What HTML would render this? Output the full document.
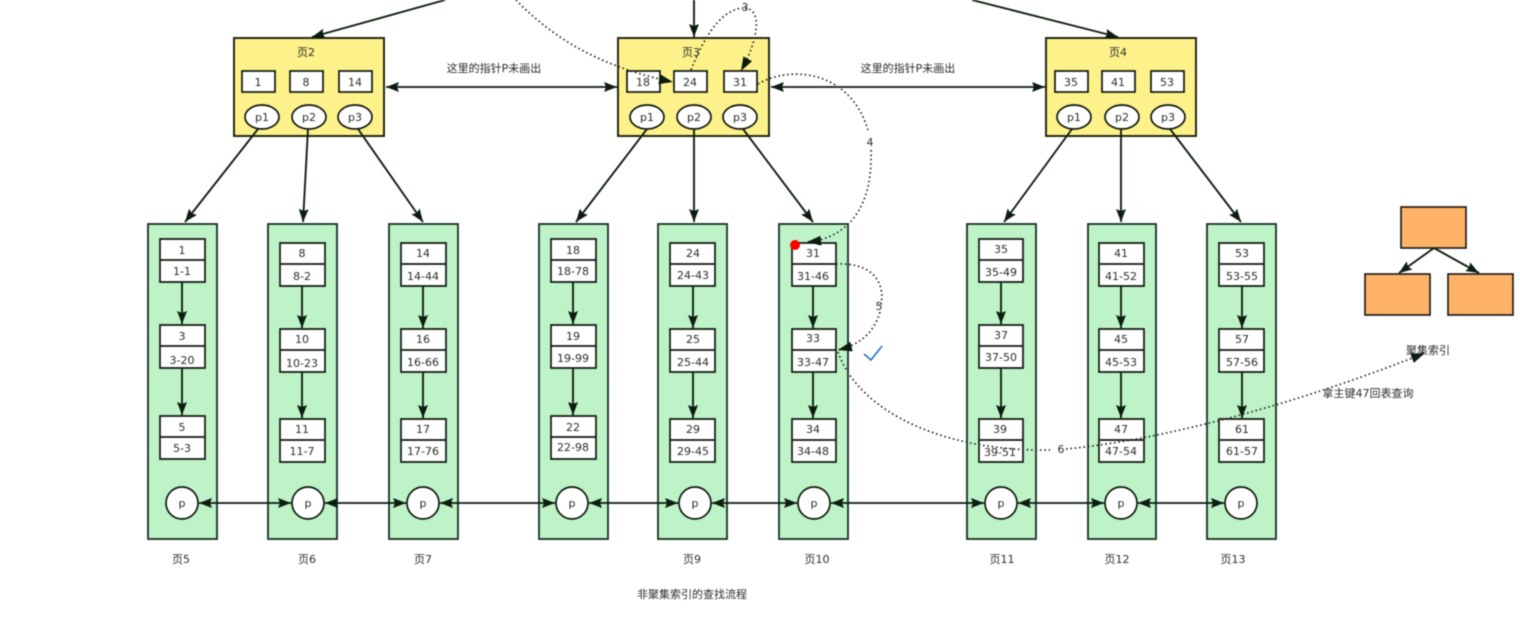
<!DOCTYPE html>
<html><head><meta charset="utf-8"><style>
html,body{margin:0;padding:0;background:#fff}
svg{display:block;filter:blur(.6px)}
text{font-family:"DejaVu Sans","Noto Sans CJK SC",sans-serif;font-size:11px;fill:#2c2c2c;text-anchor:middle}
.pg{fill:#bdf3c7;stroke:#17301f;stroke-width:1.8}
.y{fill:#fdf18a;stroke:#1c1c10;stroke-width:1.9}
.b{fill:#fff;stroke:#10180f;stroke-width:1.7}
.o{fill:#ffb366;stroke:#151515;stroke-width:1.6}
.a{stroke:#10200f;stroke-width:1.9;fill:none;marker-end:url(#m)}
.h{stroke:#0a1a10;stroke-width:1.8;fill:none;marker-end:url(#m);marker-start:url(#s)}
.d{stroke:#2a2a2a;stroke-width:1.7;fill:none;stroke-dasharray:1.6 2.8}
.da{stroke:#2a2a2a;stroke-width:1.7;fill:none;stroke-dasharray:1.6 2.8;marker-end:url(#m2)}
</style></head><body>
<svg width="1520" height="631" viewBox="0 0 1520 631" xmlns="http://www.w3.org/2000/svg">
<defs>
<marker id="m" markerWidth="14" markerHeight="12" refX="13" refY="5" orient="auto" markerUnits="userSpaceOnUse"><path d="M0 0L13 5L0 10L2 5Z" fill="#0c1c10"/></marker>
<marker id="s" markerWidth="14" markerHeight="12" refX="0" refY="5" orient="auto" markerUnits="userSpaceOnUse"><path d="M13 0L0 5L13 10L11 5Z" fill="#0c1c10"/></marker>
<marker id="m2" markerWidth="15" markerHeight="12" refX="14" refY="5" orient="auto" markerUnits="userSpaceOnUse"><path d="M0 0L14 5L0 10Z" fill="#0c1c10"/></marker>
</defs>
<!-- page frames -->
<rect class="pg" x="148" y="224" width="69" height="315"/>
<rect class="pg" x="268" y="224" width="69" height="315"/>
<rect class="pg" x="389" y="224" width="69" height="315"/>
<rect class="pg" x="539" y="224" width="69" height="315"/>
<rect class="pg" x="658" y="224" width="69" height="315"/>
<rect class="pg" x="779" y="224" width="69" height="315"/>
<rect class="pg" x="967" y="224" width="69" height="315"/>
<rect class="pg" x="1088" y="224" width="68" height="315"/>
<rect class="pg" x="1207" y="224" width="69" height="315"/>
<rect class="y" x="234" y="38" width="150" height="98"/>
<rect class="y" x="618" y="38" width="151" height="98"/>
<rect class="y" x="1046" y="38" width="150" height="98"/>
<!-- top boxes -->
<g class="b">
<rect x="242" y="71" width="33" height="21"/><rect x="290" y="71" width="33" height="21"/><rect x="339" y="71" width="33" height="21"/>
<rect x="627" y="71" width="33" height="21"/><rect x="674" y="71" width="33" height="21"/><rect x="724" y="71" width="33" height="21"/>
<rect x="1055" y="71" width="33" height="21"/><rect x="1102" y="71" width="33" height="21"/><rect x="1151" y="71" width="33" height="21"/>
<ellipse cx="262" cy="117" rx="17" ry="12"/><ellipse cx="309" cy="117" rx="17" ry="12"/><ellipse cx="355" cy="117" rx="17" ry="12"/>
<ellipse cx="647" cy="117" rx="17" ry="12"/><ellipse cx="694" cy="117" rx="17" ry="12"/><ellipse cx="740" cy="117" rx="17" ry="12"/>
<ellipse cx="1074" cy="117" rx="17" ry="12"/><ellipse cx="1122" cy="117" rx="17" ry="12"/><ellipse cx="1168" cy="117" rx="17" ry="12"/>
</g>
<!-- node boxes -->
<g class="b">
<path d="M160 239h45v43h-45zM160 260h45M160 325h45v43h-45zM160 346h45M160 416h45v43h-45zM160 437h45"/>
<path d="M280 243h45v43h-45zM280 264h45M280 329h45v43h-45zM280 350h45M280 419h45v43h-45zM280 440h45"/>
<path d="M401 243h45v43h-45zM401 264h45M401 329h45v43h-45zM401 350h45M401 419h45v43h-45zM401 440h45"/>
<path d="M551 239h45v43h-45zM551 260h45M551 325h45v43h-45zM551 346h45M551 416h45v43h-45zM551 437h45"/>
<path d="M670 243h45v43h-45zM670 264h45M670 329h45v43h-45zM670 350h45M670 419h45v43h-45zM670 440h45"/>
<path d="M792 243h44v43h-44zM792 264h44M792 329h44v43h-44zM792 350h44M792 419h44v43h-44zM792 440h44"/>
<path d="M979 239h44v43h-44zM979 260h44M979 325h44v43h-44zM979 346h44M979 419h44v43h-44zM979 440h44"/>
<path d="M1099 243h45v43h-45zM1099 264h45M1099 329h45v43h-45zM1099 350h45M1099 419h45v43h-45zM1099 440h45"/>
<path d="M1219 243h45v43h-45zM1219 264h45M1219 329h45v43h-45zM1219 350h45M1219 419h45v43h-45zM1219 440h45"/>
<circle cx="182" cy="503" r="16"/><circle cx="308" cy="503" r="16"/><circle cx="423" cy="503" r="16"/><circle cx="572" cy="503" r="16"/><circle cx="695" cy="503" r="16"/><circle cx="814" cy="503" r="16"/><circle cx="1001" cy="503" r="16"/><circle cx="1121" cy="503" r="16"/><circle cx="1241" cy="503" r="16"/>
</g>
<!-- arrows -->
<path class="a" d="M445 0L312 37"/><path class="a" d="M694 0V37"/><path class="a" d="M972 0L1118 37"/>
<path class="h" d="M386 87H617"/><path class="h" d="M771 87H1045"/>
<path class="a" d="M258 129L185 222"/><path class="a" d="M308 129L303 222"/><path class="a" d="M358 129L423 222"/>
<path class="a" d="M647 129L576 222"/><path class="a" d="M694 129V222"/><path class="a" d="M743 129L813 222"/>
<path class="a" d="M1072 129L1004 222"/><path class="a" d="M1121 129V222"/><path class="a" d="M1170 129L1241 222"/>
<path class="a" d="M182 282V324"/><path class="a" d="M182 368V415"/>
<path class="a" d="M302 286V328"/><path class="a" d="M302 372V418"/>
<path class="a" d="M423 286V328"/><path class="a" d="M423 372V418"/>
<path class="a" d="M573 282V324"/><path class="a" d="M573 368V415"/>
<path class="a" d="M693 286V328"/><path class="a" d="M693 372V418"/>
<path class="a" d="M813 286V328"/><path class="a" d="M813 372V418"/>
<path class="a" d="M1001 282V324"/><path class="a" d="M1001 368V418"/>
<path class="a" d="M1121 286V328"/><path class="a" d="M1121 372V418"/>
<path class="a" d="M1242 286V328"/><path class="a" d="M1242 372V418"/>
<path class="h" d="M199 503H291"/><path class="h" d="M325 503H406"/><path class="h" d="M440 503H555"/><path class="h" d="M589 503H678"/><path class="h" d="M712 503H797"/><path class="h" d="M831 503H984"/><path class="h" d="M1018 503H1104"/><path class="h" d="M1138 503H1224"/>
<!-- dotted -->
<path class="da" d="M516 0C545 30 590 65 673 82"/>
<path class="d" d="M691 70C705 35 722 8 745 8"/>
<path class="da" d="M745 8C763 10 758 40 741 71"/>
<path class="d" d="M758 84C790 65 850 70 868 130"/>
<path class="da" d="M871 150C873 205 850 238 807 242"/>
<path class="d" d="M836 264C875 262 885 285 881 305"/>
<path class="da" d="M880 312C873 335 858 345 838 350"/>
<path class="d" d="M838 352C860 415 950 452 1050 450"/>
<path class="da" d="M1066 449C1180 438 1320 395 1425 353"/>
<circle cx="795" cy="245" r="5" fill="#f00"/>
<path d="M864 354L871 360L882 346" fill="none" stroke="#2a6fd0" stroke-width="1.6"/>
<!-- orange -->
<rect class="o" x="1401" y="207" width="65" height="41"/>
<rect class="o" x="1365" y="274" width="65" height="41"/>
<rect class="o" x="1448" y="274" width="65" height="41"/>
<path class="a" d="M1434 248L1399 273"/><path class="a" d="M1434 248L1479 273"/>
<!-- text -->
<text x="306" y="56">页2</text><text x="691" y="56">页3</text><text x="1118" y="56">页4</text>
<text x="494" y="72">这里的指针P未画出</text><text x="908" y="72">这里的指针P未画出</text>
<text x="258" y="86">1</text><text x="306" y="86">8</text><text x="355" y="86">14</text>
<text x="643" y="86">18</text><text x="690" y="86">24</text><text x="740" y="86">31</text>
<text x="1071" y="86">35</text><text x="1118" y="86">41</text><text x="1167" y="86">53</text>
<text x="262" y="121">p1</text><text x="309" y="121">p2</text><text x="355" y="121">p3</text>
<text x="647" y="121">p1</text><text x="694" y="121">p2</text><text x="740" y="121">p3</text>
<text x="1074" y="121">p1</text><text x="1122" y="121">p2</text><text x="1168" y="121">p3</text>
<text x="182" y="254">1</text><text x="182" y="275">1-1</text><text x="182" y="340">3</text><text x="182" y="364">3-20</text><text x="182" y="431">5</text><text x="182" y="452">5-3</text>
<text x="302" y="257">8</text><text x="302" y="280">8-2</text><text x="302" y="343">10</text><text x="302" y="367">10-23</text><text x="302" y="433">11</text><text x="302" y="455">11-7</text>
<text x="423" y="257">14</text><text x="423" y="280">14-44</text><text x="423" y="343">16</text><text x="423" y="366">16-66</text><text x="423" y="433">17</text><text x="423" y="455">17-76</text>
<text x="573" y="254">18</text><text x="573" y="275">18-78</text><text x="573" y="340">19</text><text x="573" y="362">19-99</text><text x="573" y="431">22</text><text x="573" y="451">22-98</text>
<text x="693" y="257">24</text><text x="693" y="279">24-43</text><text x="693" y="343">25</text><text x="693" y="366">25-44</text><text x="693" y="433">29</text><text x="693" y="455">29-45</text>
<text x="813" y="257">31</text><text x="813" y="280">31-46</text><text x="813" y="342">33</text><text x="813" y="366">33-47</text><text x="813" y="433">34</text><text x="813" y="455">34-48</text>
<text x="1001" y="253">35</text><text x="1001" y="276">35-49</text><text x="1001" y="339">37</text><text x="1001" y="361">37-50</text><text x="1000" y="433">39</text><text x="1000" y="456">39-51</text>
<text x="1121" y="257">41</text><text x="1121" y="280">41-52</text><text x="1121" y="343">45</text><text x="1121" y="366">45-53</text><text x="1121" y="433">47</text><text x="1121" y="455">47-54</text>
<text x="1242" y="257">53</text><text x="1242" y="280">53-55</text><text x="1242" y="343">57</text><text x="1242" y="366">57-56</text><text x="1242" y="433">61</text><text x="1242" y="455">61-57</text>
<text x="182" y="507">p</text><text x="308" y="507">p</text><text x="423" y="507">p</text><text x="572" y="507">p</text><text x="695" y="507">p</text><text x="814" y="507">p</text><text x="1001" y="507">p</text><text x="1121" y="507">p</text><text x="1241" y="507">p</text>
<text x="181" y="563">页5</text><text x="307" y="563">页6</text><text x="423" y="563">页7</text><text x="692" y="563">页9</text><text x="817" y="563">页10</text><text x="1002" y="563">页11</text><text x="1117" y="563">页12</text><text x="1233" y="563">页13</text>
<text x="692" y="598">非聚集索引的查找流程</text>
<text x="1428" y="354">聚集索引</text><text x="1368" y="397">拿主键47回表查询</text>
<text x="745" y="11">3</text><text x="870" y="146">4</text><text x="879" y="310">5</text><text x="1061" y="453">6</text>
</svg>
</body></html>
